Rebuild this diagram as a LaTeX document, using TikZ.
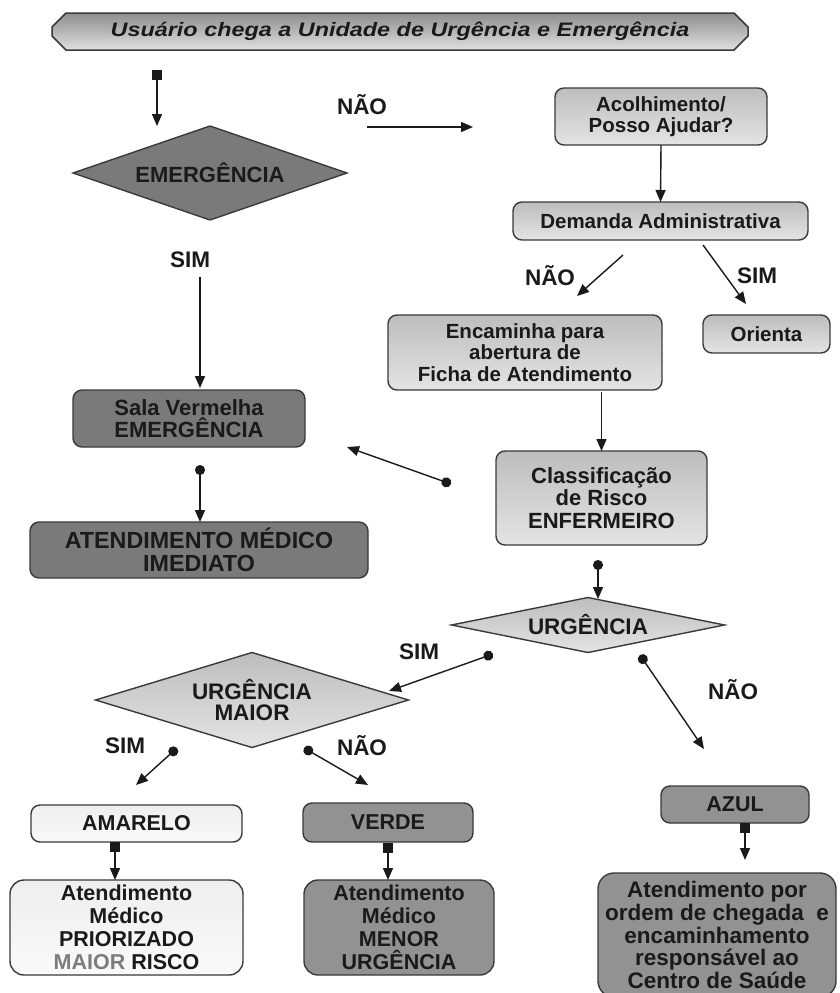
\documentclass[tikz,border=0pt]{standalone}
\usepackage{fontspec}
\usepackage{graphicx}
\setmainfont{Liberation Sans}
\usetikzlibrary{arrows.meta,shapes.geometric,shapes.misc}

\definecolor{ink}{HTML}{1A1A1A}
\definecolor{edgegray}{HTML}{3A3A3A}
\definecolor{lgtop}{HTML}{BDBDBD}
\definecolor{lgbot}{HTML}{E4E4E4}
\definecolor{dgray}{HTML}{7A7A7A}
\definecolor{mgray}{HTML}{929292}
\definecolor{paletop}{HTML}{EEEEEE}
\definecolor{palebot}{HTML}{FAFAFA}
\definecolor{bannertop}{HTML}{8E8E8E}
\definecolor{bannerbot}{HTML}{E0E0E0}
\definecolor{softtext}{HTML}{7C7C7C}

\newcommand\boxfont{\fontsize{20.5}{21.5}\selectfont\bfseries}
\newcommand\bigboxfont{\fontsize{21.5}{23}\selectfont\bfseries}
\newcommand\labelfont{\fontsize{22.5}{23}\selectfont\bfseries}
\newcommand\decfont{\fontsize{22.5}{23}\selectfont\bfseries}

\tikzset{
  box/.style={draw=edgegray, line width=1.4pt, rounded corners=9pt,
    inner sep=0pt, outer sep=0pt, align=center, text=ink, font=\boxfont},
  lightbox/.style={box, top color=lgtop, bottom color=lgbot},
  darkbox/.style={box, fill=dgray},
  midbox/.style={box, fill=mgray},
  palebox/.style={box, top color=paletop, bottom color=palebot},
  decision/.style={diamond, draw=edgegray, line width=1.4pt, inner sep=0pt,
    outer sep=0pt, align=center, text=ink, font=\decfont},
  answer/.style={font=\labelfont, text=ink, inner sep=0pt},
  conn/.style={line width=1.4pt, draw=ink},
  >={Triangle[length=12pt,width=10pt]},
  sqstart/.style={conn, {Square[length=10pt,width=10pt]}->},
  dotstart/.style={conn, {Circle[length=10pt]}->},
}

\begin{document}
\begin{tikzpicture}[x=1pt,y=-1pt]
\useasboundingbox (0,0) rectangle (840,993);
\fill[white] (0,0) rectangle (840,993);
\clip (0,0) rectangle (840,993);

% title banner
\node[chamfered rectangle, chamfered rectangle xsep=7pt, chamfered rectangle ysep=7pt,
  draw=edgegray, line width=1.5pt, top color=bannertop, bottom color=bannerbot,
  minimum width=696pt, minimum height=37pt, inner sep=0pt, text=ink]
  (title) at (400,31.5)
  {\fontsize{19.5}{20}\selectfont\bfseries\itshape\scalebox{1.2}[1]{Usuário chega a Unidade de Urgência e Emergência}};

% decisions
\node[decision, fill=dgray, shape aspect=3, minimum width=274pt, minimum height=94pt,
  font=\fontsize{22}{22}\selectfont\bfseries] (emerg) at (210,173) {EMERGÊNCIA};
\node[decision, top color=lgtop, bottom color=lgbot, shape aspect=4,
  minimum width=273pt, minimum height=55pt] (urg) at (588,625) {URGÊNCIA};
\node[decision, top color=lgtop, bottom color=lgbot, shape aspect=3,
  minimum width=313pt, minimum height=95pt] (maior) at (252,700) {URGÊNCIA\\[-2pt]MAIOR};

% right column
\node[lightbox, minimum width=212pt, minimum height=57pt] (acol) at (661,116.5)
  {Acolhimento/\\Posso Ajudar?};
\node[lightbox, minimum width=295pt, minimum height=38pt] (dem) at (660.5,221)
  {Demanda Administrativa};
\node[lightbox, minimum width=127pt, minimum height=38pt] (orienta) at (766.5,334)
  {Orienta};
\node[lightbox, minimum width=274pt, minimum height=75pt] (enc) at (525,352.5)
  {Encaminha para\\abertura de\\Ficha de Atendimento};
\node[lightbox, minimum width=211pt, minimum height=94pt, font=\fontsize{22}{22.5}\selectfont\bfseries]
  (class) at (601.5,498) {Classificação\\de Risco\\ENFERMEIRO};

% left column
\node[darkbox, minimum width=232pt, minimum height=57pt, font=\fontsize{22}{22}\selectfont\bfseries]
  (sala) at (189,418.5) {Sala Vermelha\\EMERGÊNCIA};
\node[darkbox, minimum width=338pt, minimum height=56pt, font=\fontsize{23.3}{23}\selectfont\bfseries]
  (imed) at (199,550) {ATENDIMENTO MÉDICO\\IMEDIATO};

% outcome boxes
\node[palebox, minimum width=211pt, minimum height=37pt, font=\bigboxfont] (amarelo) at (136.5,823.5) {AMARELO};
\node[palebox, minimum width=233pt, minimum height=95pt, rounded corners=14pt, font=\bigboxfont]
  (prior) at (126.5,927.5)
  {Atendimento\\Médico\\PRIORIZADO\\{\color{softtext}MAIOR} RISCO};
\node[midbox, minimum width=170pt, minimum height=39pt, font=\bigboxfont] (verde) at (388,822.5) {VERDE};
\node[midbox, minimum width=190pt, minimum height=95pt, rounded corners=14pt, font=\bigboxfont]
  (menor) at (399,927.5) {Atendimento\\Médico\\MENOR\\URGÊNCIA};
\node[midbox, minimum width=148pt, minimum height=37pt, font=\bigboxfont] (azul) at (735,804.5) {AZUL};
\node[midbox, minimum width=238pt, minimum height=124pt, rounded corners=16pt,
  font=\fontsize{22.5}{22.8}\selectfont\bfseries]
  (centro) at (717,935)
  {Atendimento por\\ordem de chegada\ \ e\\encaminhamento\\responsável ao\\Centro de Saúde};

% answer labels
\node[answer] (l1) at (362,105) {NÃO};
\node[answer] (l2) at (190,260) {SIM};
\node[answer] (l3) at (550,276) {NÃO};
\node[answer] (l4) at (757,276) {SIM};
\node[answer] (l5) at (419,652) {SIM};
\node[answer] (l6) at (733,690) {NÃO};
\node[answer] (l7) at (125,746) {SIM};
\node[answer] (l8) at (362,746) {NÃO};

% connector end points
\coordinate (a0) at (157,70);   \coordinate (a1) at (157,126);
\coordinate (b0) at (367,127);  \coordinate (b1) at (473,127);
\coordinate (c0) at (623,255);  \coordinate (c1) at (577,296);
\coordinate (d0) at (703,245);  \coordinate (d1) at (746,304);
\coordinate (e0) at (200,277);  \coordinate (e1) at (200,388);
\coordinate (f0) at (451,484);  \coordinate (f1) at (347,447);
\coordinate (g0) at (200,465);
\coordinate (h0) at (598,560);  \coordinate (h1) at (598,599);
\coordinate (i0) at (493,654);  \coordinate (i1) at (389,691);
\coordinate (j0) at (640,655);  \coordinate (j1) at (704,749);
\coordinate (k0) at (177,748);  \coordinate (k1) at (136,785);
\coordinate (m0) at (304,748);  \coordinate (m1) at (368,785);
\coordinate (n0) at (115,842);
\coordinate (p0) at (745,823);  \coordinate (p1) at (745,860);

% connectors
\draw[sqstart] (a0) -- (a1);
\draw[conn, ->] (b0) -- (b1);
\draw[conn, ->] (acol.south) -- (dem.north);
\draw[conn, ->] (c0) -- (c1);
\draw[conn, ->] (d0) -- (d1);
\draw[conn, ->] (e0) -- (e1);
\draw[conn, ->] (class.north |- enc.south) ++(0,2) -- (class.north);
\draw[dotstart] (f0) -- (f1);
\draw[dotstart] (g0) -- (g0 |- imed.north);
\draw[dotstart] (h0) -- (h1);
\draw[dotstart] (i0) -- (i1);
\draw[dotstart] (j0) -- (j1);
\draw[dotstart] (k0) -- (k1);
\draw[dotstart] (m0) -- (m1);
\draw[sqstart] (n0) -- (n0 |- prior.north);
\draw[sqstart] (verde.south) ++(0,1) -- (verde.south |- menor.north);
\draw[sqstart] (p0) -- (p1);
\end{tikzpicture}
\end{document}
